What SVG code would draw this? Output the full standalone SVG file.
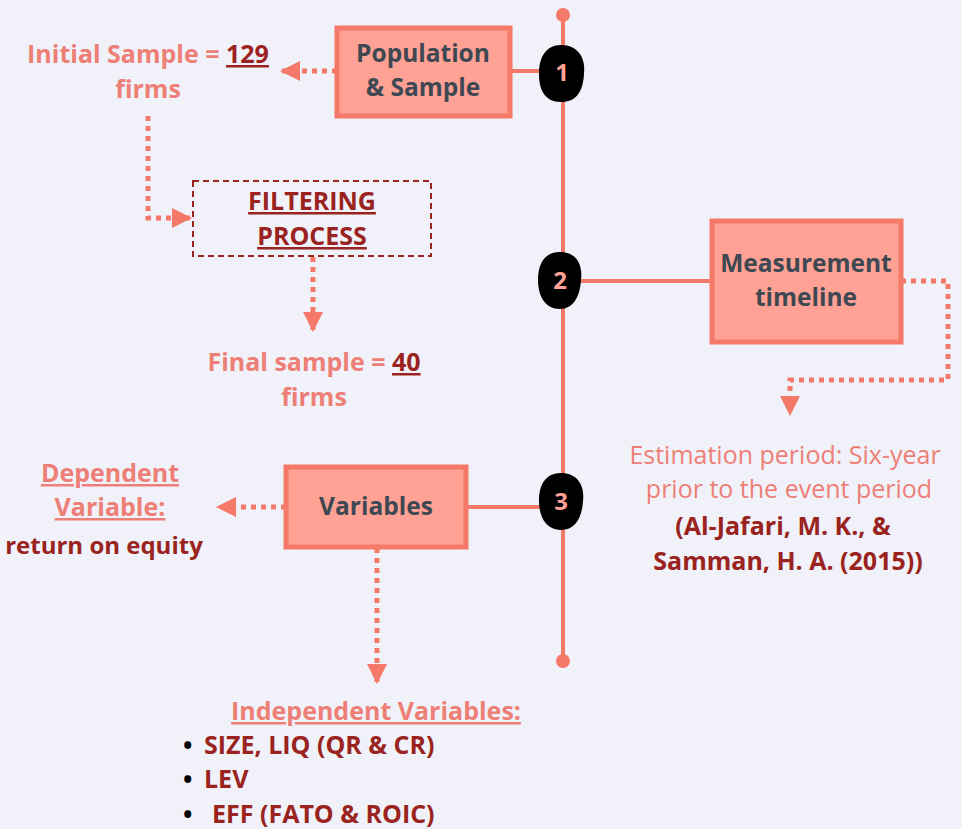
<svg xmlns="http://www.w3.org/2000/svg" width="962" height="829" viewBox="0 0 962 829">
<defs>
<style>
text{font-family:"Open Sans",Lato,"Liberation Sans",sans-serif;font-weight:bold}
.box{fill:#ffa194;stroke:#f57969;stroke-width:5}
.lbl{fill:#3e4852;font-size:24.5px;text-anchor:middle}
.sal{fill:#ee7f76;font-size:25px}
.red{fill:#9a2320;font-size:25px}
.reg{font-weight:normal}
.bul{fill:#000;font-size:25px}
.line{stroke:#f57969;stroke-width:4;fill:none}
.dot{stroke:#f57969;stroke-width:5;fill:none;stroke-dasharray:5 5}
.blob{fill:#000}
.num{fill:#ffa194;font-size:24px;text-anchor:middle}
</style>
<marker id="ah" viewBox="0 0 10 10" refX="9" refY="5" markerWidth="4" markerHeight="4" orient="auto" markerUnits="strokeWidth">
<path d="M0,0L10,5L0,10z" fill="#f57969"/>
</marker>
</defs>
<rect width="962" height="829" fill="#f0f1f9"/>
<g id="connectors">
<line class="line" x1="563" y1="15" x2="563" y2="661"/>
<circle cx="563" cy="15" r="7" fill="#f57969"/>
<circle cx="563" cy="661" r="7" fill="#f57969"/>
<line class="line" x1="510" y1="71" x2="545" y2="71"/>
<line class="line" x1="580" y1="281" x2="712" y2="281"/>
<line class="line" x1="466" y1="507" x2="545" y2="507"/>
<path class="dot" d="M337,71H282" marker-end="url(#ah)"/>
<path class="dot" d="M148,116V218H190" marker-end="url(#ah)"/>
<path class="dot" d="M313,257V330" marker-end="url(#ah)"/>
<path class="dot" d="M901,281H948V380H790V414" marker-end="url(#ah)"/>
<path class="dot" d="M286,507H218" marker-end="url(#ah)"/>
<path class="dot" d="M377,548V682" marker-end="url(#ah)"/>
</g>
<g id="n1">
<path class="blob" d="M561,45C578,45 586,58 584,74C583,92 576,102 561,102C545,102 539,90 539,74C539,57 546,45 561,45Z"/>
<text class="num" x="562" y="81">1</text>
</g>
<g id="n2">
<path class="blob" d="M560,252C576,252 583,264 581,280C580,297 573,309 560,309C545,309 538,296 538,280C538,263 545,252 560,252Z"/>
<text class="num" x="560" y="289">2</text>
</g>
<g id="n3">
<path class="blob" d="M561,473C577,473 585,485 583,501C582,518 575,530 561,530C546,530 539,517 539,501C539,484 546,473 561,473Z"/>
<text class="num" x="561" y="510">3</text>
</g>
<g id="population">
<rect class="box" x="337" y="28" width="173" height="88"/>
<text class="lbl" x="423" y="62">Population</text>
<text class="lbl" x="423" y="96">&amp; Sample</text>
</g>
<g id="initial">
<text class="sal" x="148" y="63" text-anchor="middle">Initial Sample = <tspan fill="#9a2320" text-decoration="underline">129</tspan></text>
<text class="sal" x="148" y="98" text-anchor="middle">firms</text>
</g>
<g id="filtering">
<rect x="193" y="181" width="238" height="75" fill="none" stroke="#9a2320" stroke-width="2" stroke-dasharray="6 4"/>
<text class="red" x="312" y="210" text-anchor="middle" text-decoration="underline">FILTERING</text>
<text class="red" x="312" y="245" text-anchor="middle" text-decoration="underline">PROCESS</text>
</g>
<g id="final">
<text class="sal" x="314" y="371" text-anchor="middle">Final sample = <tspan fill="#9a2320" text-decoration="underline">40</tspan></text>
<text class="sal" x="314" y="406" text-anchor="middle">firms</text>
</g>
<g id="measurement">
<rect class="box" x="712" y="221" width="189" height="121"/>
<text class="lbl" x="806" y="272">Measurement</text>
<text class="lbl" x="806" y="306">timeline</text>
</g>
<g id="estimation">
<text class="sal reg" x="785" y="464" text-anchor="middle">Estimation period: Six-year</text>
<text class="sal reg" x="789" y="498" text-anchor="middle">prior to the event period</text>
<text class="red" x="783" y="535" text-anchor="middle">(Al-Jafari, M. K., &amp;</text>
<text class="red" x="788" y="570" text-anchor="middle">Samman, H. A. (2015))</text>
</g>
<g id="variables">
<rect class="box" x="286" y="467" width="180" height="80"/>
<text class="lbl" x="376" y="515">Variables</text>
</g>
<g id="dependent">
<text class="sal" x="110" y="482" text-anchor="middle" text-decoration="underline">Dependent</text>
<text class="sal" x="110" y="516" text-anchor="middle" text-decoration="underline">Variable:</text>
<text class="red" x="104" y="554" text-anchor="middle" style="font-size:24px">return on equity</text>
</g>
<g id="independent">
<text class="sal" x="376" y="720" text-anchor="middle" text-decoration="underline">Independent Variables:</text>
<text class="bul" x="183" y="754">•</text>
<text class="red" x="204" y="754">SIZE, LIQ (QR &amp; CR)</text>
<text class="bul" x="183" y="788">•</text>
<text class="red" x="204" y="788">LEV</text>
<text class="bul" x="183" y="823">•</text>
<text class="red" x="212" y="823">EFF (FATO &amp; ROIC)</text>
</g>
</svg>
